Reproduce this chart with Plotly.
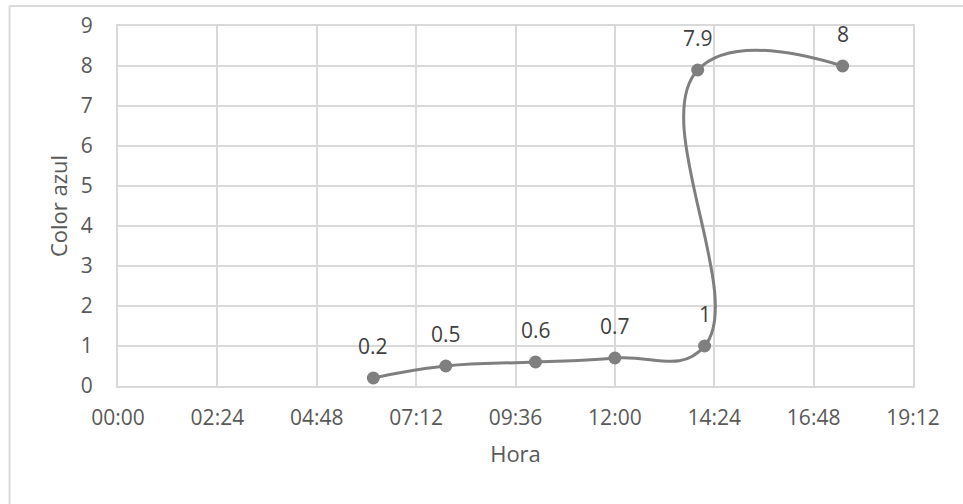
import plotly.graph_objects as go

# Lecturas del color azul a lo largo del día
hora = [
    "2024-01-01 06:10",
    "2024-01-01 07:55",
    "2024-01-01 10:05",
    "2024-01-01 12:00",
    "2024-01-01 14:10",
    "2024-01-01 14:00",
    "2024-01-01 17:30",
]
color_azul = [0.2, 0.5, 0.6, 0.7, 1, 7.9, 8]
etiquetas = ["0.2", "0.5", "0.6", "0.7", "1", "7.9", "8"]

x_inicio = "2024-01-01 00:00"
x_fin = "2024-01-01 19:12"
paso_ms = 2.4 * 3600 * 1000  # 02:24 entre marcas

FONT = "Open Sans"
GRID = "#d9d9d9"

fig = go.Figure()
fig.add_trace(
    go.Scatter(
        x=hora,
        y=color_azul,
        mode="lines+markers",
        line=dict(color="#7f7f7f", width=3, shape="spline", smoothing=1.3),
        marker=dict(color="#7f7f7f", size=13),
        hoverinfo="skip",
        showlegend=False,
    )
)

# Etiquetas de datos sobre cada punto
for xv, yv, t in zip(hora, color_azul, etiquetas):
    fig.add_annotation(
        x=xv, y=yv, text=t, showarrow=False,
        yanchor="middle", xanchor="center", yshift=32,
        font=dict(family=FONT, size=21, color="#404040"),
    )

# Marco del área del gráfico (bordes superior e izquierdo)
frame = dict(color=GRID, width=2)
fig.add_shape(type="line", xref="paper", yref="paper",
              x0=-0.1364, x1=1.2, y0=1.0556, y1=1.0556, line=frame, layer="below")
fig.add_shape(type="line", xref="paper", yref="paper",
              x0=-0.1364, x1=-0.1364, y0=1.0556, y1=-0.4, line=frame, layer="below")

fig.update_layout(
    width=963,
    height=504,
    margin=dict(l=118, r=50, t=26, b=118),
    paper_bgcolor="white",
    plot_bgcolor="white",
    font=dict(family=FONT, color="#595959"),
    xaxis=dict(
        type="date",
        range=[x_inicio, x_fin],
        tick0=x_inicio,
        dtick=paso_ms,
        tickformat="%H:%M",
        showgrid=True,
        gridcolor=GRID,
        gridwidth=2,
        showline=True,
        mirror=True,
        linecolor=GRID,
        linewidth=2,
        ticks="",
        ticklabelstandoff=12,
        tickfont=dict(family=FONT, size=21, color="#595959"),
        title=dict(text="Hora", font=dict(family=FONT, size=22, color="#595959"), standoff=16),
        zeroline=False,
    ),
    yaxis=dict(
        range=[0, 9],
        dtick=1,
        showgrid=True,
        gridcolor=GRID,
        gridwidth=2,
        showline=True,
        mirror=True,
        linecolor=GRID,
        linewidth=2,
        zeroline=True,
        zerolinecolor="#bfbfbf",
        zerolinewidth=2,
        ticks="",
        ticklabelstandoff=19,
        tickfont=dict(family=FONT, size=21, color="#595959"),
        title=dict(text="Color azul", font=dict(family=FONT, size=22, color="#595959"), standoff=7),
    ),
)

fig.write_html("out.html")
